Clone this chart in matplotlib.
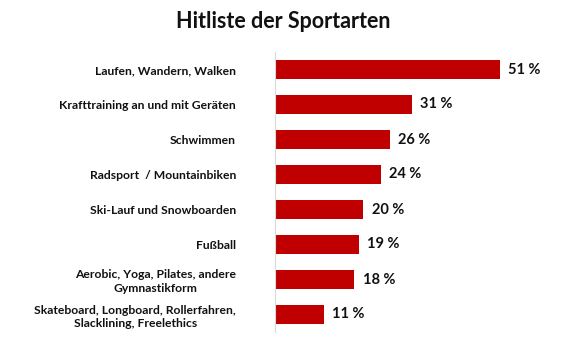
import matplotlib

matplotlib.use("Agg")
import matplotlib.pyplot as plt

categories = [
    "Laufen, Wandern, Walken",
    "Krafttraining an und mit Geräten",
    "Schwimmen",
    "Radsport  / Mountainbiken",
    "Ski-Lauf und Snowboarden",
    "Fußball",
    "Aerobic, Yoga, Pilates, andere\nGymnastikform",
    "Skateboard, Longboard, Rollerfahren,\nSlacklining, Freelethics",
]
values = [51, 31, 26, 24, 20, 19, 18, 11]
title = "Hitliste der Sportarten"

BAR_COLOR = "#C00000"
TEXT_COLOR = "#111111"
W, H = 578, 358

plt.rcParams["font.family"] = ["Lato", "DejaVu Sans"]
plt.rcParams["font.weight"] = "bold"

fig = plt.figure(figsize=(W / 100, H / 100), dpi=100)
ax = fig.add_axes([275 / W, 1 - 332 / H, 285 / W, 280 / H])

ypos = list(range(len(values)))
ax.barh(ypos, values, height=0.57, color=BAR_COLOR)
for y, v in zip(ypos, values):
    ax.annotate(
        f"{v} %",
        (v, y),
        xytext=(6, 0),
        textcoords="offset points",
        va="center",
        ha="left",
        fontsize=10.5,
        fontweight="bold",
        color=TEXT_COLOR,
    )

ax.set_xlim(0, 285 / 4.41)
ax.set_ylim(len(values) - 0.5, -0.5)
ax.set_yticks(ypos)
ax.set_yticklabels(categories, fontsize=8.7, fontweight="bold", color=TEXT_COLOR,
                   multialignment="center", linespacing=1.25)
ax.tick_params(axis="y", length=0, pad=28)
ax.set_xticks([])
for side in ("top", "right", "bottom"):
    ax.spines[side].set_visible(False)
ax.spines["left"].set_color("#d9d9d9")
ax.spines["left"].set_linewidth(0.8)

fig.text(283 / W, 1 - 22 / H, title, ha="center", va="center",
         fontsize=15.5, fontweight="bold", color=TEXT_COLOR)

fig.savefig("out.png", dpi=100)
